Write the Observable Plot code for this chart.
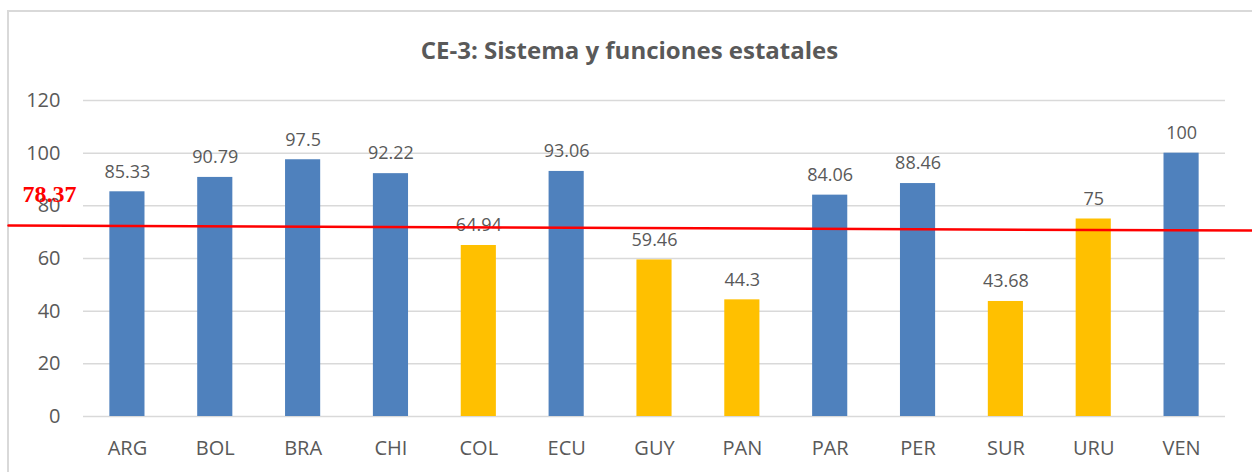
<!DOCTYPE html>
<html>
<head>
<meta charset="utf-8">
<script src="https://cdn.jsdelivr.net/npm/d3@7"></script>
<script src="https://cdn.jsdelivr.net/npm/@observablehq/plot@0.6"></script>
<style>
  body { margin: 0; background: #fff; }
  #wrap { position: relative; width: 1252px; height: 472px; overflow: hidden; background: #fff; }
  #frame { position: absolute; left: 7px; top: 10px; width: 1300px; height: 520px; border: 2px solid #d9d9d9; box-sizing: border-box; }
  #title { position: absolute; left: 7px; width: 1245px; top: 33px; text-align: center; line-height: 34px;
           font-family: "Open Sans", sans-serif; font-weight: bold; font-size: 24px; color: #595959; }
  #chart { position: absolute; left: 0; top: 0; }
</style>
</head>
<body>
<div id="wrap">
  <div id="frame"></div>
  <div id="title">CE-3: Sistema y funciones estatales</div>
  <div id="chart"></div>
</div>
<script>
const countries = ["ARG","BOL","BRA","CHI","COL","ECU","GUY","PAN","PAR","PER","SUR","URU","VEN"];
const scores = [85.33, 90.79, 97.5, 92.22, 64.94, 93.06, 59.46, 44.3, 84.06, 88.46, 43.68, 75, 100];
const labels = ["85.33","90.79","97.5","92.22","64.94","93.06","59.46","44.3","84.06","88.46","43.68","75","100"];
const groups = ["above","above","above","above","below","above","below","below","above","above","below","below","above"];
const yTicks = [0, 20, 40, 60, 80, 100, 120];
const meanValue = 78.37;
const meanLabel = "78.37";
// red reference line as drawn in the picture (position in category index units, value)
const refLinePos = [-1.354, 12.807];
const refLineVal = [72.5, 70.6];

const data = countries.map((c, i) => ({code: c, i, value: scores[i], label: labels[i], group: groups[i]}));
const refLine = refLinePos.map((p, k) => ({p, v: refLineVal[k]}));

const chart = Plot.plot({
  width: 1252,
  height: 472,
  marginLeft: 83,
  marginRight: 27,
  marginTop: 100,
  marginBottom: 56,
  style: {background: "transparent", fontFamily: "'Open Sans', sans-serif", color: "#595959", overflow: "visible"},
  x: {type: "linear", domain: [-0.5, countries.length - 0.5], axis: null},
  y: {domain: [0, 120], axis: null},
  color: {domain: ["above", "below"], range: ["#4F81BD", "#FFC000"]},
  marks: [
    Plot.gridY(yTicks, {stroke: "#d9d9d9", strokeOpacity: 1, strokeWidth: 1.5}),
    Plot.axisY(yTicks, {tickSize: 0, tickPadding: 23, fontSize: 20, fill: "#595959", label: null}),
    Plot.axisX(d3.range(countries.length), {tickSize: 0, tickPadding: 24, fontSize: 20, fill: "#595959",
      tickFormat: i => countries[i], label: null}),
    Plot.rectY(data, {x1: d => d.i - 0.2, x2: d => d.i + 0.2, y1: 0, y2: "value", fill: "group"}),
    Plot.text(data, {x: "i", y: "value", text: "label", dy: -20, fontSize: 18, fill: "#595959"}),
    Plot.line(refLine, {x: "p", y: "v", stroke: "#FF0000", strokeWidth: 2.5, clip: false}),
    Plot.text([meanValue], {frameAnchor: "left", y: d => d, text: () => meanLabel, textAnchor: "start",
      dx: -61, dy: -16, fontSize: 24, fontWeight: "bold", fill: "#FF0000",
      fontFamily: "'Liberation Serif', 'Times New Roman', serif"})
  ]
});
document.getElementById("chart").appendChild(chart);
</script>
</body>
</html>
